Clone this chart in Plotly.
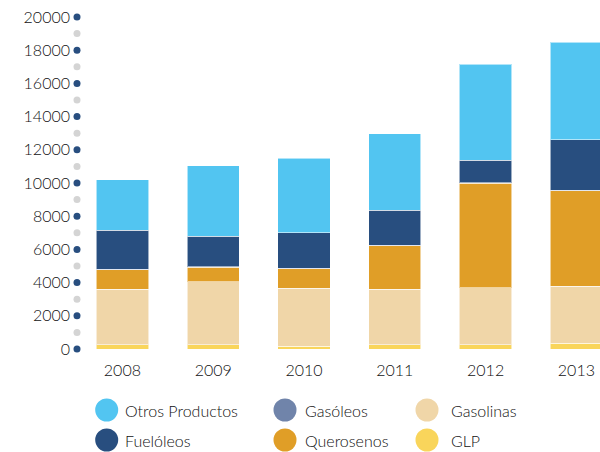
import plotly.graph_objects as go

years = ["2008", "2009", "2010", "2011", "2012", "2013"]
glp = [270, 270, 170, 270, 270, 350]
gasolinas = [3330, 3770, 3490, 3330, 3410, 3430]
querosenos = [1160, 870, 1170, 2620, 6300, 5750]
gasoleos = [30, 60, 30, 30, 50, 30]
fueloleos = [2370, 1830, 2130, 2110, 1340, 3050]
otros = [3050, 4240, 4500, 4620, 5770, 5880]

ytick_vals = list(range(0, 20001, 2000))
ytick_text = [str(v) for v in ytick_vals]
dot_vals = list(range(0, 20001, 1000))

colors = {
    "Otros Productos": "#52C5F1",
    "Gasóleos": "#7084AA",
    "Gasolinas": "#F0D6A8",
    "Fuelóleos": "#284E7F",
    "Querosenos": "#E09E27",
    "GLP": "#F9D55B",
}

FONT = "Lato"
TXT = "#111111"
WEIGHT = 300

W, H = 600, 452
ML, MR, MT, MB = 77, 0, 17, 103
PW, PH = W - ML - MR, H - MT - MB

xpos = list(range(len(years)))
fig = go.Figure()
stack = [("GLP", glp), ("Gasolinas", gasolinas), ("Querosenos", querosenos),
         ("Gasóleos", gasoleos), ("Fuelóleos", fueloleos), ("Otros Productos", otros)]
for name, vals in stack:
    fig.add_trace(go.Bar(
        x=xpos, y=vals, name=name, width=0.575,
        marker=dict(color=colors[name], line=dict(color="rgba(255,255,255,0.55)", width=1)),
        showlegend=False, hoverinfo="skip"))

# axis dots
fig.add_trace(go.Scatter(
    x=[-0.5] * len(dot_vals), y=dot_vals, mode="markers", cliponaxis=False,
    marker=dict(size=7, color=["#284E7F" if v % 2000 == 0 else "#D4D4D4" for v in dot_vals]),
    showlegend=False, hoverinfo="skip"))

unit = 90.8
xr0 = -0.5
xr1 = xr0 + PW / unit

fig.update_layout(
    width=W, height=H, barmode="stack",
    margin=dict(l=ML, r=MR, t=MT, b=MB, autoexpand=False),
    paper_bgcolor="white", plot_bgcolor="white",
    font=dict(family=FONT, size=16, color=TXT, weight=WEIGHT),
    xaxis=dict(range=[xr0, xr1], tickvals=xpos, ticktext=years, showgrid=False,
               zeroline=False, showline=False, ticks="", ticklabelstandoff=10,
               tickfont=dict(family=FONT, size=16, color=TXT, weight=WEIGHT)),
    yaxis=dict(range=[0, 20000], tickvals=ytick_vals, ticktext=ytick_text, showgrid=False,
               zeroline=False, showline=False, ticks="", ticklabelstandoff=6,
               tickfont=dict(family=FONT, size=16, color=TXT, weight=WEIGHT)),
)

def px2paper(px, py):
    return (px - ML) / PW, (MT + PH - py) / PH

legend_items = [
    ("Otros Productos", 106.7, 410, 123),
    ("Gasóleos", 285, 410, 303),
    ("Gasolinas", 427, 410, 449),
    ("Fuelóleos", 106.7, 440, 123),
    ("Querosenos", 285, 440, 303),
    ("GLP", 427, 440, 449),
]
for name, cx, cy, tx in legend_items:
    px_, py_ = px2paper(cx, cy)
    fig.add_shape(type="circle", xref="paper", yref="paper", xsizemode="pixel", ysizemode="pixel",
                  xanchor=px_, yanchor=py_, x0=-11.5, x1=11.5, y0=-11.5, y1=11.5,
                  fillcolor=colors[name], line=dict(width=0))
    ax, ay = px2paper(tx, cy)
    fig.add_annotation(x=ax, y=ay, xref="paper", yref="paper", text=name, showarrow=False,
                       xanchor="left", yanchor="middle",
                       font=dict(family=FONT, size=16, color=TXT, weight=WEIGHT))

fig.write_html("out.html", config={"displayModeBar": False},
               post_script="document.body.style.margin='0px';document.body.style.overflow='hidden';")
